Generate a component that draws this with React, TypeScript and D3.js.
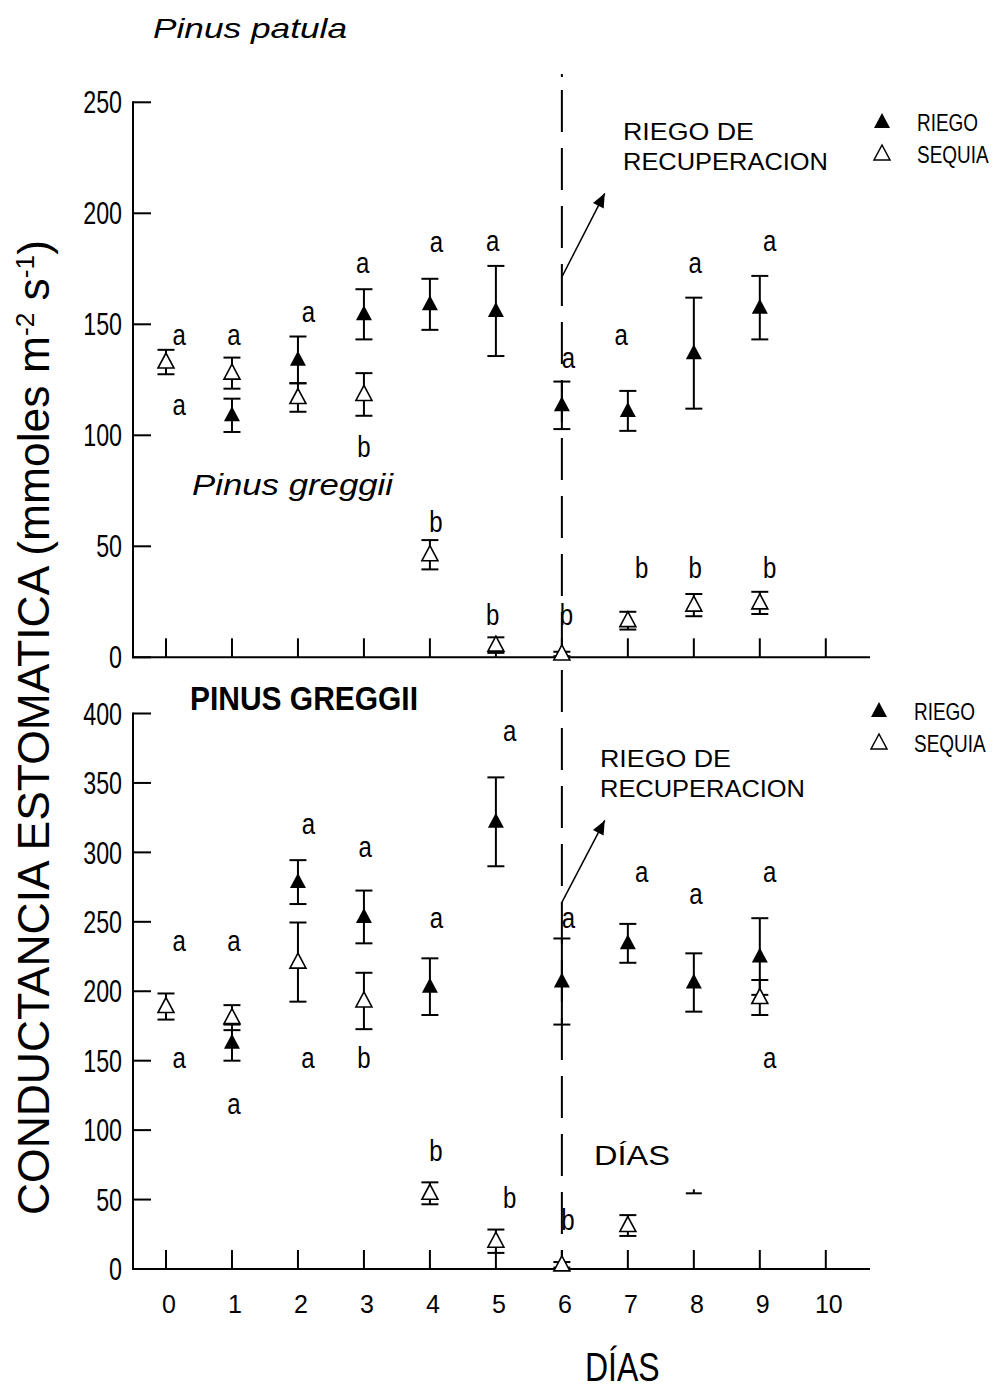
import React from 'react';
import * as d3 from 'd3';

// days on the x axis
const days = [0, 1, 2, 3, 4, 5, 6, 7, 8, 9];
const xTicks = [0, 1, 2, 3, 4, 5, 6, 7, 8, 9, 10];

// upper panel (Pinus patula)
const topTicks = [0, 50, 100, 150, 200, 250];
const topRiego = [null, 109, 134, 154.5, 159, 156, 113.5, 111, 137, 157.5];
const topRiegoSe = [null, 7.5, 10.5, 11.3, 11.5, 20.3, 10.7, 9, 25, 14.3];
const topSequia = [133, 128, 117, 118.4, 46.2, 5.5, 1.5, 16.5, 23.5, 24.5];
const topSequiaSe = [5.5, 7, 6.4, 9.6, 6.6, 3.5, 1, 4, 5, 5];
const topLabelDay = [0.2, 0.2, 1.03, 2.16, 2.98, 3.0, 4.1, 4.09, 4.95, 4.95, 6.1, 6.07, 6.9, 7.21, 8.02, 8.02, 9.15, 9.15];
const topLabelVal = [140.7, 109.1, 140.7, 151.2, 173, 90.4, 182.7, 56.6, 183.2, 14.5, 130.2, 14.5, 140.7, 35.6, 173, 35.6, 183.2, 35.6];
const topLabelText = ['a', 'a', 'a', 'a', 'a', 'b', 'a', 'b', 'a', 'b', 'a', 'b', 'a', 'b', 'a', 'b', 'a', 'b'];

// lower panel (Pinus greggii)
const botTicks = [0, 50, 100, 150, 200, 250, 300, 350, 400];
const botRiego = [null, 163, 278.6, 253.5, 203.3, 322, 207, 234.5, 206.3, 225];
const botRiegoSe = [null, 13, 15.8, 19, 20.4, 32, 31, 14, 21, 27.6];
const botSequia = [189, 181, 221, 193, 54.5, 20, 3, 31.3, null, 195.5];
const botSequiaSe = [9.4, 9, 28.5, 20.3, 7.9, 8.4, 2, 7.5, null, 12.6];
const botLabelDay = [0.2, 0.2, 1.03, 1.03, 2.16, 2.15, 3.02, 3.0, 4.1, 4.09, 5.21, 5.21, 6.1, 6.09, 7.21, 8.03, 9.15, 9.15];
const botLabelVal = [229.2, 144.5, 229.2, 111.6, 313.2, 144.5, 296.4, 144.5, 245.3, 78, 380, 43.7, 245.3, 28.1, 278.9, 262.6, 278.9, 144.5];
const botLabelText = ['a', 'a', 'a', 'a', 'a', 'a', 'a', 'b', 'a', 'b', 'a', 'b', 'a', 'b', 'a', 'a', 'a', 'a'];
const botStrayCapDay = [8];
const botStrayCapVal = [54.5];

const FONT = 'Liberation Sans, Arial, sans-serif';
const TRI = 'M0,-9 L8,6 L-8,6 Z';

const x = d3.scaleLinear().domain([-0.5, 10.67]).range([133, 870]);

const ErrBar = ({ cx, y, v, se }) => (
  <g stroke="#000" strokeWidth={2}>
    <line x1={cx} x2={cx} y1={y(v - se)} y2={y(v + se)} />
    <line x1={cx - 8.5} x2={cx + 8.5} y1={y(v - se)} y2={y(v - se)} />
    <line x1={cx - 8.5} x2={cx + 8.5} y1={y(v + se)} y2={y(v + se)} />
  </g>
);

const Panel = ({ y, ticks, riego, riegoSe, sequia, sequiaSe, lDay, lVal, lText, arrowFrom, arrowTo, noteX, noteY, legendX, legendY, tickLabels }) => {
  const [y0, y1] = y.range();
  const sx = x(arrowFrom[0]), sy = y(arrowFrom[1]), ex = x(arrowTo[0]), ey = y(arrowTo[1]);
  const ang = Math.atan2(ey - sy, ex - sx) * 180 / Math.PI;
  return (
    <g>
      {/* axes */}
      <line x1={133} x2={133} y1={y1 - 1} y2={y0 + 1} stroke="#000" strokeWidth={2} />
      <line x1={132} x2={870} y1={y0} y2={y0} stroke="#000" strokeWidth={2} />
      {ticks.map(t => (
        <g key={t}>
          <line x1={133} x2={151} y1={y(t)} y2={y(t)} stroke="#000" strokeWidth={2} />
          <text transform={`translate(122,${y(t)}) scale(0.75,1)`} dy="0.36em" textAnchor="end" fontSize={31} fontFamily={FONT}>{t}</text>
        </g>
      ))}
      {xTicks.map(t => (
        <line key={t} x1={x(t)} x2={x(t)} y1={y0} y2={y0 - 19} stroke="#000" strokeWidth={2} />
      ))}
      {tickLabels && xTicks.map(t => (
        <text key={t} x={x(t) + 3} y={y0 + 44} textAnchor="middle" fontSize={25} fontFamily={FONT}>{t}</text>
      ))}
      {/* error bars */}
      {days.map((d, i) => riego[i] != null && (
        <ErrBar key={'r' + d} cx={x(d)} y={y} v={riego[i]} se={riegoSe[i]} />
      ))}
      {days.map((d, i) => sequia[i] != null && (
        <ErrBar key={'s' + d} cx={x(d)} y={y} v={sequia[i]} se={sequiaSe[i]} />
      ))}
      {/* markers */}
      {days.map((d, i) => sequia[i] != null && (
        <path key={'so' + d} d={TRI} transform={`translate(${x(d)},${y(sequia[i])})`} fill="#fff" stroke="#000" strokeWidth={1.6} />
      ))}
      {days.map((d, i) => riego[i] != null && (
        <path key={'ro' + d} d={TRI} transform={`translate(${x(d)},${y(riego[i])})`} fill="#000" />
      ))}
      {/* letters */}
      {lText.map((s, i) => (
        <text key={'l' + i} transform={`translate(${x(lDay[i])},${y(lVal[i])}) scale(0.8,1)`} textAnchor="middle" fontSize={30} fontFamily={FONT}>{s}</text>
      ))}
      {/* arrow */}
      <line x1={sx} y1={sy} x2={ex} y2={ey} stroke="#000" strokeWidth={1.5} />
      <path d="M0,0 L-14,-6 L-14,6 Z" transform={`translate(${ex},${ey}) rotate(${ang})`} fill="#000" />
      <text x={noteX} y={noteY} fontSize={24} fontFamily={FONT} textLength={131} lengthAdjust="spacingAndGlyphs">RIEGO DE</text>
      <text x={noteX} y={noteY + 30} fontSize={24} fontFamily={FONT} textLength={205} lengthAdjust="spacingAndGlyphs">RECUPERACION</text>
      {/* legend */}
      <path d={TRI} transform={`translate(${legendX},${legendY})`} fill="#000" />
      <text transform={`translate(${legendX + 35},${legendY + 9}) scale(0.79,1)`} fontSize={24} fontFamily={FONT}>RIEGO</text>
      <path d={TRI} transform={`translate(${legendX},${legendY + 32})`} fill="#fff" stroke="#000" strokeWidth={1.5} />
      <text transform={`translate(${legendX + 35},${legendY + 41}) scale(0.79,1)`} fontSize={24} fontFamily={FONT}>SEQUIA</text>
    </g>
  );
};

export default function App() {
  const yTop = d3.scaleLinear().domain([0, 250]).range([657.3, 102.3]);
  const yBot = d3.scaleLinear().domain([0, 400]).range([1269, 713.5]);
  return (
    <svg width={997} height={1391} style={{ position: 'absolute', left: 0, top: 0, background: '#fff' }}>
      <rect width={997} height={1391} fill="#fff" />
      {/* recovery irrigation line */}
      <line x1={x(6)} x2={x(6)} y1={74} y2={77} stroke="#000" strokeWidth={2} />
      <line x1={x(6)} x2={x(6)} y1={90} y2={1269} stroke="#000" strokeWidth={2} strokeDasharray="42 16" />
      <Panel y={yTop} ticks={topTicks} riego={topRiego} riegoSe={topRiegoSe} sequia={topSequia} sequiaSe={topSequiaSe}
        lDay={topLabelDay} lVal={topLabelVal} lText={topLabelText}
        arrowFrom={[6, 171.3]} arrowTo={[6.65, 209]} noteX={623} noteY={140} legendX={882} legendY={122} tickLabels={false} />
      <Panel y={yBot} ticks={botTicks} riego={botRiego} riegoSe={botRiegoSe} sequia={botSequia} sequiaSe={botSequiaSe}
        lDay={botLabelDay} lVal={botLabelVal} lText={botLabelText}
        arrowFrom={[6, 264]} arrowTo={[6.65, 323]} noteX={600} noteY={767} legendX={879} legendY={711} tickLabels={true} />
      {botStrayCapDay.map((d, i) => (
        <g key={'sc' + i} stroke="#000" strokeWidth={2}>
          <line x1={x(d) - 8} x2={x(d) + 8} y1={yBot(botStrayCapVal[i])} y2={yBot(botStrayCapVal[i])} />
          <line x1={x(d)} x2={x(d)} y1={yBot(botStrayCapVal[i])} y2={yBot(botStrayCapVal[i]) - 4} />
        </g>
      ))}
      {/* titles and notes */}
      <text x={153} y={38} fontSize={28} fontStyle="italic" fontFamily={FONT} textLength={194} lengthAdjust="spacingAndGlyphs">Pinus patula</text>
      <text x={192} y={495} fontSize={30} fontStyle="italic" fontFamily={FONT} textLength={201} lengthAdjust="spacingAndGlyphs">Pinus greggii</text>
      <text x={190} y={710} fontSize={34} fontWeight="bold" fontFamily={FONT} textLength={228} lengthAdjust="spacingAndGlyphs">PINUS GREGGII</text>
      <text x={594} y={1165} fontSize={27} fontFamily={FONT} textLength={76} lengthAdjust="spacingAndGlyphs">DÍAS</text>
      <text transform="translate(585,1381) scale(0.8,1)" fontSize={40} fontFamily={FONT}>DÍAS</text>
      <text transform="translate(49,1215) rotate(-90)" fontSize={44} fontFamily={FONT} textLength={975} lengthAdjust="spacingAndGlyphs">
        CONDUCTANCIA ESTOMATICA (mmoles m<tspan baselineShift="super" fontSize={26}>-2</tspan> s<tspan baselineShift="super" fontSize={26}>-1</tspan>)
      </text>
    </svg>
  );
}
